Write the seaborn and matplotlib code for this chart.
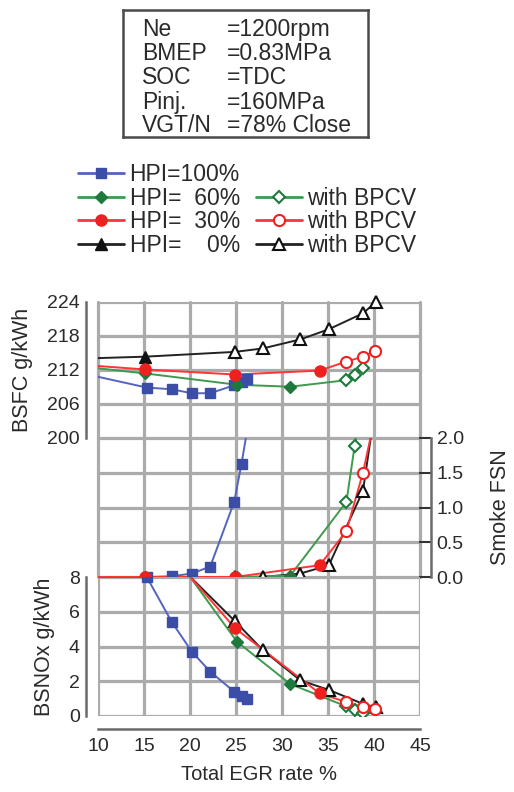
import matplotlib
matplotlib.use("Agg")
import matplotlib.pyplot as plt
import seaborn as sns
from matplotlib.lines import Line2D

# Total EGR rate (%) of each measured point, one list per HPI setting
egr_100 = [15.3, 18.0, 20.2, 22.2, 24.8, 25.6, 26.2]
egr_60 = [15.1, 25.1, 30.9, 37.0, 37.9, 38.8]
egr_30 = [15.1, 24.9, 34.1, 37.0, 38.8, 40.1]
egr_0 = [15.1, 24.9, 27.9, 32.0, 35.1, 38.8, 40.2]
# how many of the leading points are without BPCV (the rest are "with BPCV")
n_plain = [7, 3, 3, 1]

bsfc_100 = [208.9, 208.6, 207.9, 207.9, 209.3, 209.9, 210.5]
bsfc_60 = [211.4, 209.4, 209.05, 210.2, 211.1, 212.3]
bsfc_30 = [212.1, 211.2, 211.9, 213.5, 214.35, 215.4]
bsfc_0 = [214.35, 215.2, 215.8, 217.4, 219.2, 222.0, 224.0]

smoke_100 = [0.0, 0.01, 0.05, 0.15, 1.08, 1.63, 2.1]
smoke_60 = [0.0, 0.0, 0.02, 1.08, 1.89, 2.6]
smoke_30 = [0.0, 0.0, 0.17, 0.66, 1.5, 2.3]
smoke_0 = [0.0, 0.0, 0.0, 0.05, 0.17, 1.24, 2.5]

nox_100 = [8.0, 5.43, 3.7, 2.55, 1.4, 1.15, 0.96]
nox_60 = [11.6, 4.28, 1.84, 0.55, 0.35, 0.15]
nox_30 = [11.0, 5.05, 1.3, 0.8, 0.5, 0.42]
nox_0 = [10.6, 5.45, 3.8, 2.05, 1.5, 0.7, 0.5]

# where the fitted curves enter at the left edge of the chart
egr_edge = 10
edge_bsfc = [210.8, 212.3, 212.7, 214.1]
edge_smoke = [0.0, 0.0, 0.0, 0.0]
edge_nox = [8.0, 8.0, 8.0, 8.0]

hpi_labels = ["HPI=100%", "HPI=  60%", "HPI=  30%", "HPI=    0%"]
bpcv_label = "with BPCV"

cond_keys = ["Ne", "BMEP", "SOC", "Pinj.", "VGT/N"]
cond_vals = ["=1200rpm", "=0.83MPa", "=TDC", "=160MPa", "=78% Close"]

egr_ticks = [10, 15, 20, 25, 30, 35, 40, 45]
bsfc_ticks = [200, 206, 212, 218, 224]
smoke_ticks = [0.0, 0.5, 1.0, 1.5, 2.0]
nox_ticks = [0, 2, 4, 6, 8]

# styling per group: marker, marker colour, line colour, marker size
marks = ["s", "D", "o", "^"]
mcolors = ["#3b4da6", "#1d7a3c", "#ee2020", "#111111"]
lcolors = ["#5464bd", "#3e9a4c", "#ff3535", "#222222"]
msizes = [7.5, 6.5, 8.0, 8.5]

sns.set_theme(style="white")
plt.rcParams["font.family"] = ["Liberation Sans", "DejaVu Sans"]
tcol = "#2a2a2a"

fig = plt.figure(figsize=(5.14, 7.92), dpi=100)
W_px, H_px = 514, 792


def rect(x0, y0, x1, y1):
    return [x0 / W_px, 1 - y1 / H_px, (x1 - x0) / W_px, (y1 - y0) / H_px]


ax_b = fig.add_axes(rect(98, 302, 420, 438))
ax_s = fig.add_axes(rect(98, 438, 420, 577))
ax_n = fig.add_axes(rect(98, 577, 420, 716))

egr = [egr_100, egr_60, egr_30, egr_0]
panels = [
    (ax_b, [bsfc_100, bsfc_60, bsfc_30, bsfc_0], edge_bsfc),
    (ax_s, [smoke_100, smoke_60, smoke_30, smoke_0], edge_smoke),
    (ax_n, [nox_100, nox_60, nox_30, nox_0], edge_nox),
]

gcol = "#ababab"
for ax in (ax_b, ax_s, ax_n):
    ax.set_xlim(10, 45)
    ax.set_xticks(egr_ticks)
    for s in ax.spines.values():
        s.set_visible(False)
    ax.grid(True, color=gcol, lw=2.3)
    ax.set_axisbelow(True)

ax_b.set_ylim(200, 224)
ax_b.set_yticks(bsfc_ticks)
ax_s.set_ylim(0, 2)
ax_s.set_yticks(smoke_ticks)
ax_s.set_yticklabels([f"{v:.1f}" for v in smoke_ticks])
ax_n.set_ylim(0, 8)
ax_n.set_yticks(nox_ticks)

for ax in (ax_b, ax_s, ax_n):
    for gl in ax.get_xgridlines() + ax.get_ygridlines():
        gl.set_clip_on(False)

order = [0, 3, 1, 2]
for ax, ys, edge in panels:
    for i in order:
        xs = [egr_edge] + egr[i]
        yv = [edge[i]] + ys[i]
        sns.lineplot(x=xs, y=yv, sort=False, color=lcolors[i], lw=1.4,
                     ax=ax, legend=False, estimator=None)
        n = n_plain[i]
        clip = ax is not ax_b
        ax.plot(egr[i][:n], ys[i][:n], ls="none", marker=marks[i],
                ms=msizes[i], mfc=mcolors[i], mec=mcolors[i], zorder=4,
                clip_on=clip)
        ax.plot(egr[i][n:], ys[i][n:], ls="none", marker=marks[i],
                ms=msizes[i], mfc="white", mec=mcolors[i], mew=1.5,
                zorder=4, clip_on=clip)

spcol = "#6a6a6a"
ax_b.spines["left"].set_visible(True)
ax_b.spines["left"].set_position(("outward", 9))
ax_n.spines["left"].set_visible(True)
ax_n.spines["left"].set_position(("outward", 9))
ax_n.spines["bottom"].set_visible(True)
ax_n.spines["bottom"].set_position(("outward", 9))
ax_s.spines["right"].set_visible(True)
ax_s.spines["right"].set_position(("outward", 8))
for ax in (ax_b, ax_s, ax_n):
    for s in ax.spines.values():
        s.set_color(spcol)
        s.set_linewidth(1.8)
    ax.tick_params(axis="both", direction="in", length=9, width=1.5,
                   color="#333333", labelsize=14, labelcolor=tcol, pad=4)

ax_b.tick_params(axis="x", bottom=False, labelbottom=False)
ax_s.tick_params(axis="x", bottom=False, labelbottom=False)
ax_s.yaxis.tick_right()
ax_s.yaxis.set_label_position("right")
ax_n.tick_params(axis="x", pad=7)

ax_b.set_ylabel("BSFC g/kWh", fontsize=15.5, color=tcol, labelpad=10)
ax_n.set_ylabel("BSNOx g/kWh", fontsize=15.5, color=tcol, labelpad=10)
ax_s.set_ylabel("Smoke FSN", fontsize=15.5, color=tcol, labelpad=19)
ax_n.set_xlabel("Total EGR rate %", fontsize=14.5, color=tcol, labelpad=7)

# operating condition box
box = fig.add_axes(rect(123, 10, 368, 137))
box.set_xticks([])
box.set_yticks([])
for s in box.spines.values():
    s.set_visible(True)
    s.set_color("#4a4a4a")
    s.set_linewidth(1.8)
row_y = [0.85, 0.66, 0.465, 0.275, 0.09]
for k, v, y in zip(cond_keys, cond_vals, row_y):
    box.text(0.078, y, k, fontsize=16.5, color=tcol, va="center")
    box.text(0.425, y, v, fontsize=16.5, color=tcol, va="center")

# legend
handles, labels = [], []
for i in range(4):
    handles.append(Line2D([], [], color=lcolors[i], lw=2, marker=marks[i],
                          ms=msizes[i], mfc=mcolors[i], mec=mcolors[i]))
    labels.append(hpi_labels[i])
handles.append(Line2D([], [], alpha=0))
labels.append("")
for i in range(1, 4):
    handles.append(Line2D([], [], color=lcolors[i], lw=2, marker=marks[i],
                          ms=msizes[i], mfc="white", mec=mcolors[i], mew=1.5))
    labels.append(bpcv_label)
fig.legend(handles, labels, ncol=2, loc="upper left",
           bbox_to_anchor=(78 / W_px, 1 - 163 / H_px), frameon=False,
           borderpad=0, borderaxespad=0, handlelength=2.0,
           handletextpad=0.25, columnspacing=0.7, labelspacing=0.03,
           fontsize=16.5, labelcolor=tcol)

fig.savefig("out.png", dpi=100)
